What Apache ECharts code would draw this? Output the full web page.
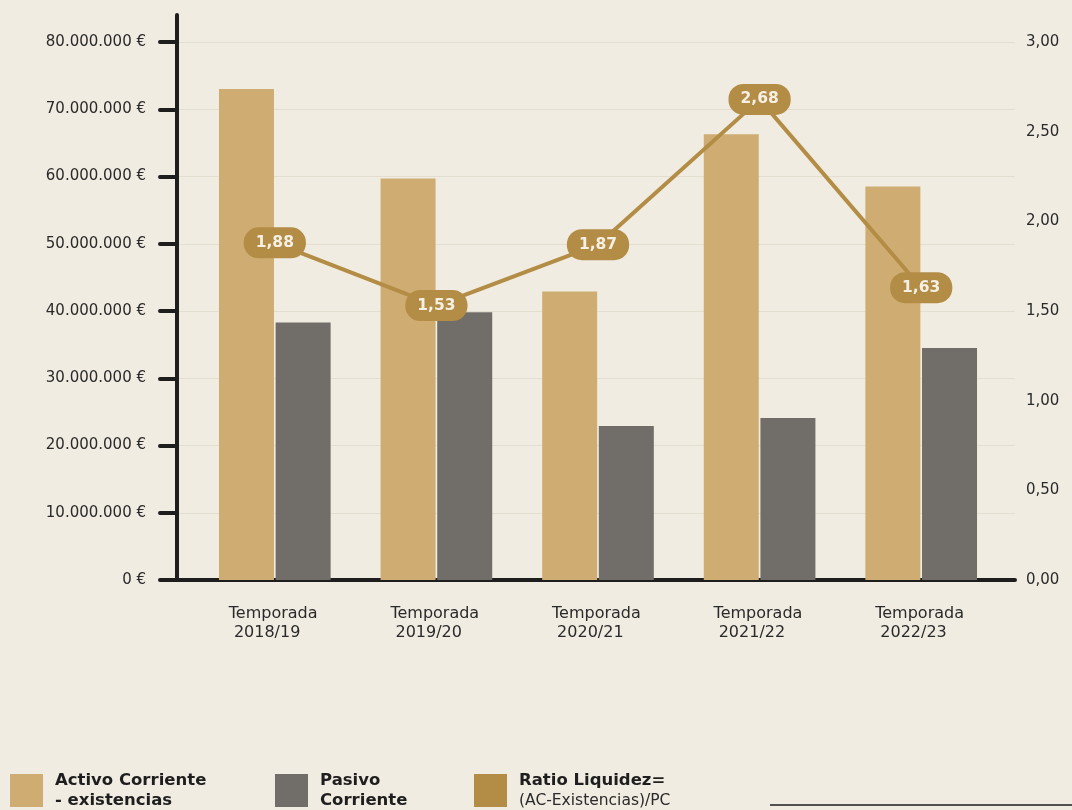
<!DOCTYPE html>
<html>
<head>
<meta charset="utf-8">
<script src="https://cdn.jsdelivr.net/npm/echarts@6/dist/echarts.min.js"></script>
<style>
html,body{margin:0;padding:0;background:#F1ECE2;}
#chart{width:1072px;height:810px;}
</style>
</head>
<body>
<div id="chart"></div>
<script>
const categories = ['2018/19', '2019/20', '2020/21', '2021/22', '2022/23'];
const activoCorriente = [73000000, 59700000, 42900000, 66300000, 58500000];
const pasivoCorriente = [38300000, 39800000, 22900000, 24100000, 34500000];
const ratioLiquidez = [1.88, 1.53, 1.87, 2.68, 1.63];
const seriesNames = ['Activo Corriente - existencias', 'Pasivo Corriente', 'Ratio Liquidez'];

const FONT = 'DejaVu Sans';
const INK = '#2A2A2A';
const C_ACT = '#CFAD72';
const C_PAS = '#716E69';
const C_RAT = '#B38D45';

function euro(v) {
  const s = Math.round(v).toString().replace(/\B(?=(\d{3})+(?!\d))/g, '.');
  return s + ' €';
}
function dec(v) { return v.toFixed(2).replace('.', ','); }

const chart = echarts.init(document.getElementById('chart'));
const legendText = {
  fontFamily: FONT, color: '#1E1E1E', padding: [0, 0, 0, 7],
  rich: {
    b: { fontFamily: FONT, fontWeight: 'bold', fontSize: 16.5, lineHeight: 20, color: '#1E1E1E' },
    r: { fontFamily: FONT, fontSize: 15.5, lineHeight: 20, color: '#2A2A2A' }
  }
};
function mkLegend(name, left, fmt) {
  return {
    data: [{ name: name, icon: 'rect' }], left: left, top: 772, orient: 'horizontal',
    padding: 0, itemWidth: 33, itemHeight: 33, selectedMode: false,
    textStyle: legendText, formatter: fmt
  };
}

chart.setOption({
  backgroundColor: '#F1ECE2',
  animation: false,
  grid: [
    { left: 194, right: 70, top: 42, bottom: 230 },
    { left: 177, right: 57, top: 15, bottom: 230 }
  ],
  legend: [
    mkLegend(seriesNames[0], 10, () => '{b|Activo Corriente}\n{b|- existencias}'),
    mkLegend(seriesNames[1], 275, () => '{b|Pasivo}\n{b|Corriente}'),
    mkLegend(seriesNames[2], 474, () => '{b|Ratio Liquidez=}\n{r|(AC-Existencias)/PC}')
  ],
  xAxis: [
    {
      type: 'category', gridIndex: 0, data: categories,
      axisLine: { show: false }, axisTick: { show: false },
      axisLabel: {
        margin: 24, interval: 0,
        formatter: v => '{a|Temporada}\n{a| ' + v + '}',
        rich: { a: { fontFamily: FONT, fontSize: 16, lineHeight: 19, color: INK, width: 92, align: 'left' } }
      }
    },
    {
      type: 'value', gridIndex: 1, min: 0, max: 1,
      axisLine: { show: true, lineStyle: { color: '#1E1E1E', width: 4, cap: 'round' } },
      axisTick: { show: false }, axisLabel: { show: false }, splitLine: { show: false }
    }
  ],
  yAxis: [
    {
      type: 'value', gridIndex: 0, position: 'left', offset: 17,
      min: 0, max: 80000000, interval: 10000000,
      axisLine: { show: false },
      axisTick: { show: true, length: 17, lineStyle: { color: '#1E1E1E', width: 4, cap: 'round' } },
      axisLabel: { margin: 31, formatter: euro, fontFamily: FONT, fontSize: 15, color: INK },
      splitLine: { show: false }
    },
    {
      type: 'value', gridIndex: 0, position: 'right', offset: 13,
      min: 0, max: 3, interval: 0.5,
      axisLine: { show: false }, axisTick: { show: false },
      axisLabel: { margin: 11, formatter: dec, fontFamily: FONT, fontSize: 15, color: INK },
      splitLine: { show: false }
    },
    {
      type: 'value', gridIndex: 1, position: 'left',
      min: 0, max: 80000000 * 565 / 538, interval: 10000000,
      axisLine: { show: true, lineStyle: { color: '#1E1E1E', width: 4, cap: 'round' } },
      axisTick: { show: false }, axisLabel: { show: false },
      splitLine: { show: true, showMaxLine: false, showMinLine: false, lineStyle: { color: '#E4DED1', width: 1.2 } }
    }
  ],
  series: [
    {
      name: seriesNames[0], type: 'bar', xAxisIndex: 0, yAxisIndex: 0,
      data: activoCorriente, barWidth: 55, barGap: '3%',
      itemStyle: { color: C_ACT }
    },
    {
      name: seriesNames[1], type: 'bar', xAxisIndex: 0, yAxisIndex: 0,
      data: pasivoCorriente, barWidth: 55, barGap: '3%',
      itemStyle: { color: C_PAS }
    },
    {
      name: seriesNames[2], type: 'line', xAxisIndex: 0, yAxisIndex: 1,
      data: ratioLiquidez, symbol: 'circle', symbolSize: 1, z: 5,
      lineStyle: { color: C_RAT, width: 4 },
      itemStyle: { color: C_RAT },
      label: {
        show: true, position: 'inside', formatter: p => dec(p.value),
        fontFamily: FONT, fontWeight: 'bold', fontSize: 15.5, lineHeight: 17,
        color: '#F6F0E4', backgroundColor: C_RAT, borderRadius: 15, padding: [7, 12]
      }
    }
  ],
  graphic: [
    { type: 'line', shape: { x1: 770, y1: 805, x2: 1072, y2: 805 }, style: { stroke: '#1E1E1E', lineWidth: 1.5 } }
  ]
});
</script>
</body>
</html>
